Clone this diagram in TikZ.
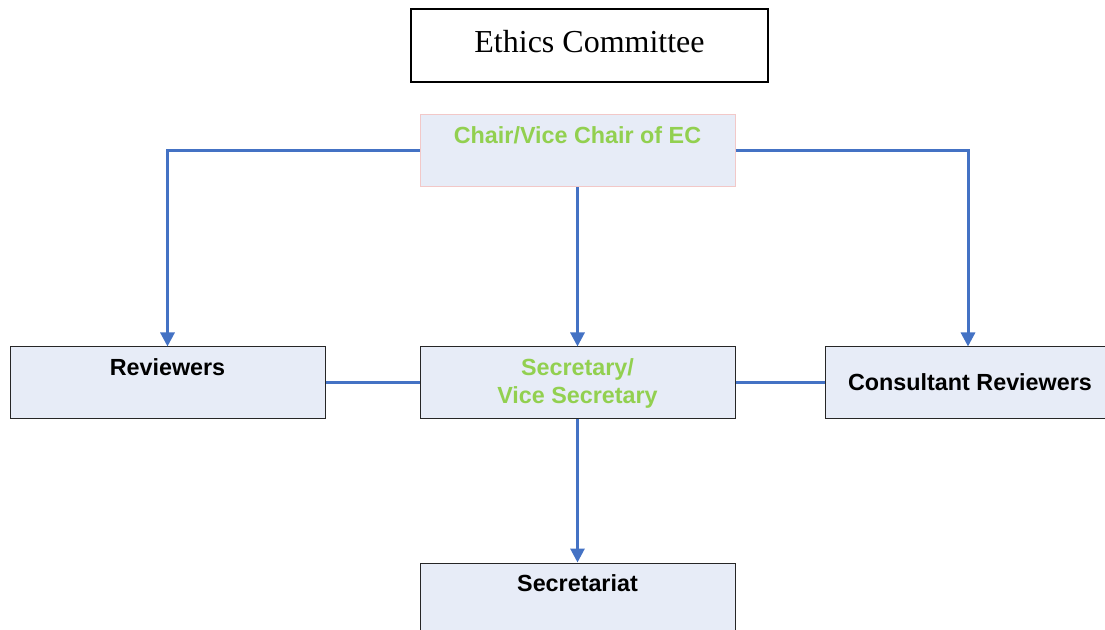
\documentclass[tikz,border=0pt]{standalone}
\usepackage{fontspec}
\setmainfont{Liberation Serif}
\setsansfont{Liberation Sans}
\usetikzlibrary{arrows.meta}

\definecolor{boxfill}{RGB}{231,236,247}
\definecolor{chairgreen}{RGB}{146,208,80}
\definecolor{linkblue}{RGB}{68,114,196}
\definecolor{chairedge}{RGB}{242,200,200}

\tikzset{every picture/.style={line width=0.75pt}}
\tikzset{
  unit/.style={draw=black!85, fill=boxfill, inner sep=0pt, minimum width=236.25pt, minimum height=53.25pt},
  lbl/.style={anchor=north, yshift=-8.5pt, inner sep=0pt, align=center, font=\sffamily\bfseries\fontsize{17.5}{21}\selectfont},
  conn/.style={draw=linkblue, line width=2.25pt, -{Triangle[width=10.5pt,length=10.5pt]}},
  link/.style={draw=linkblue, line width=2.25pt}
}

\begin{document}
\begin{tikzpicture}[x=0.75pt,y=0.75pt,yscale=-1,xscale=1]
\useasboundingbox (0,0) rectangle (1105,630);

% Title box
\node (ethics) [draw=black, line width=1pt, minimum width=267.75pt, minimum height=54.75pt,
  label={[anchor=center, yshift=3pt, inner sep=0pt, font=\fontsize{24}{28}\selectfont]center:Ethics Committee}] at (589.5,45.5) {};

% Chair
\node (chair) [unit, draw=chairedge, minimum height=54pt, label={[lbl, text=chairgreen]north:Chair/Vice Chair of EC}] at (577.5,151) {};

% Second row
\node (rev) [unit, label={[lbl]north:Reviewers}] at (167.5,382.5) {};
\node (sec) [unit, label={[lbl, text=chairgreen]north:Secretary/\\Vice Secretary}] at (577.5,382.5) {};
% right box runs off the page edge
\node (cons) [unit, minimum width=217.5pt, font=\sffamily\bfseries\fontsize{17.5}{21}\selectfont] at (970,382.5) {Consultant Reviewers};

% Bottom box (runs off the page)
\node (secr) [unit, minimum height=67.5pt, label={[lbl]north:Secretariat}] at (577.5,608) {};

% Arrows from the chair
\draw [conn] (chair.west) -| (rev.north);
\draw [conn] (chair.east) -| ([xshift=-1.5pt]cons.north);
\draw [conn] (chair.south) -- (sec.north);

% Side links and secretariat
\draw [link] (rev.east) -- (sec.west);
\draw [link] (sec.east) -- (cons.west);
\draw [conn] (sec.south) -- (secr.north);

\end{tikzpicture}
\end{document}
